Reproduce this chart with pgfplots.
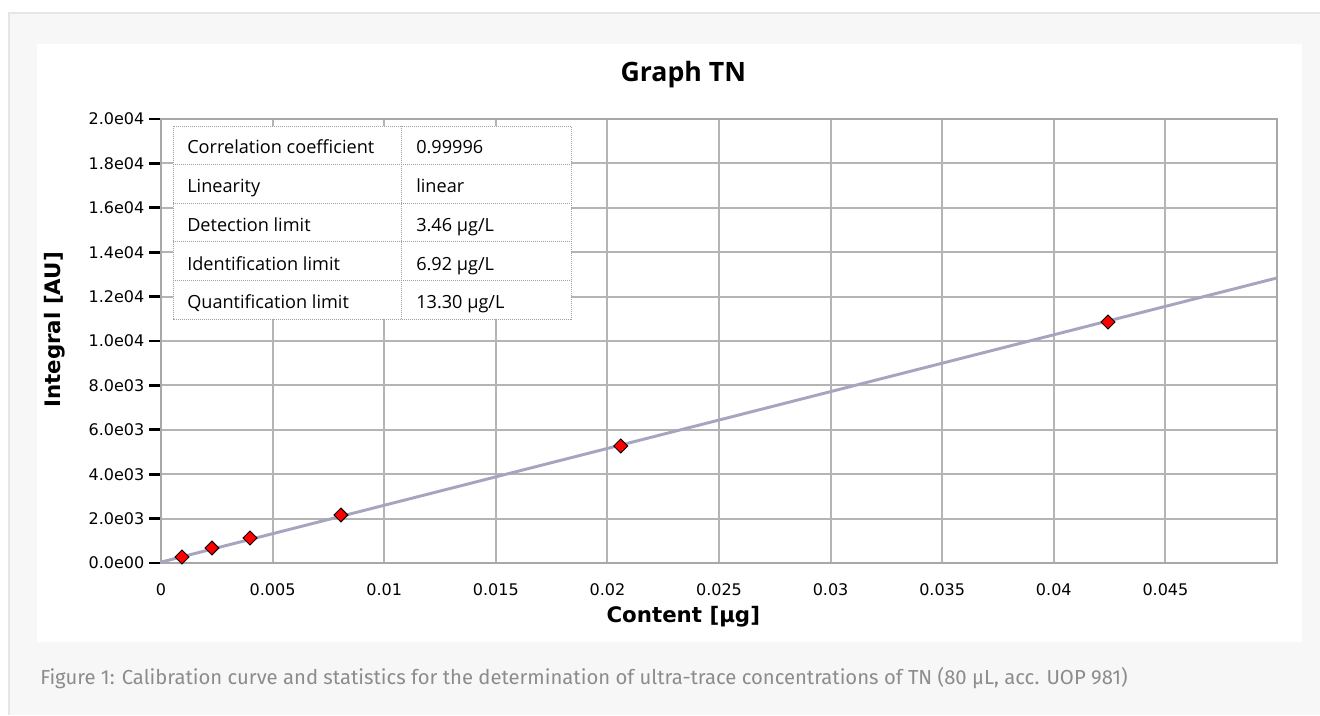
\documentclass[border=0pt]{standalone}
\usepackage{fontspec}
\setmainfont{Open Sans}
\newfontfamily\tickfont{DejaVu Sans}
\newfontfamily\capfont{Fira Sans}
\usepackage{pgfplots}
\pgfplotsset{compat=1.18}
\definecolor{pagebg}{HTML}{F7F7F7}
\definecolor{boxline}{HTML}{E6E6E6}
\definecolor{capgray}{HTML}{8C8C8C}
\definecolor{gridgray}{HTML}{B4B4B4}
\definecolor{axisgray}{HTML}{A8A8A8}
\definecolor{fitline}{HTML}{A7A4C0}
\definecolor{tabline}{HTML}{A0A0A0}

\begin{document}
\begin{tikzpicture}[x=0.75pt,y=0.75pt]
\useasboundingbox (0,0) rectangle (1320,715);
\fill[white] (0,0) rectangle (1320,715);
\fill[pagebg] (9,0) rectangle (1320,702);
\draw[boxline, line width=1pt] (9,0) -- (9,702) -- (1320,702);
\fill[white] (37,73) rectangle (1302,671);
\node[anchor=west, text=capgray, font=\capfont\fontsize{15.2pt}{17pt}\selectfont, inner sep=0pt]
  at (40,37) {Figure 1: Calibration curve and statistics for the determination of ultra-trace concentrations of TN (80 µL, acc. UOP 981)};

\begin{axis}[
    at={(120.75pt,114pt)}, anchor=south west,
    scale only axis, width=837pt, height=333pt,
    xmin=0, xmax=0.05, ymin=0, ymax=20000,
    xtick={0,0.005,0.01,0.015,0.02,0.025,0.03,0.035,0.04,0.045,0.05},
    xticklabels={0,0.005,0.01,0.015,0.02,0.025,0.03,0.035,0.04,0.045,},
    ytick={0,2000,4000,6000,8000,10000,12000,14000,16000,18000,20000},
    yticklabels={0.0e00,2.0e03,4.0e03,6.0e03,8.0e03,1.0e04,1.2e04,1.4e04,1.6e04,1.8e04,2.0e04},
    scaled ticks=false,
    grid=major,
    grid style={gridgray, line width=1.4pt},
    axis line style={axisgray, line width=1.4pt},
    xtick style={draw=none},
    ytick style={black, line width=2.2pt},
    major tick length=9pt,
    tick align=outside,
    ytick pos=left, xtick pos=bottom,
    tick label style={font=\tickfont\fontsize{12pt}{14pt}\selectfont},
    xticklabel style={yshift=-3pt},
    title={Graph TN},
    title style={at={(axis description cs:0.468,1.083)}, anchor=center,
      font=\bfseries\fontsize{20pt}{22pt}\selectfont},
    xlabel={Content [µg]},
    ylabel={Integral [AU]},
    every axis x label/.style={at={(axis description cs:0.468,-0.1216)}, anchor=center,
      font=\tickfont\bfseries\fontsize{16pt}{18pt}\selectfont},
    every axis y label/.style={at={(axis description cs:-0.095,0.525)}, anchor=center, rotate=90,
      font=\tickfont\bfseries\fontsize{16pt}{18pt}\selectfont},
]
% linear fit
\addplot[fitline, line width=2.2pt, no marks] coordinates {(0,40) (0.05,12840)};
% calibration standards
\addplot[only marks, mark=square*, mark size=3.7pt,
  mark options={rotate=45, fill=red, draw=black, line width=0.7pt}]
  coordinates {
    (0.00094,270) (0.00228,676) (0.00399,1126) (0.00806,2162)
    (0.0206,5270) (0.04243,10856)
  };

% statistics table
\fill[white] (axis description cs:0.01075,0.5495) rectangle (axis description cs:0.3674,0.9842);
\begin{scope}[tabline, line width=0.75pt, dash pattern=on 0.75pt off 0.75pt]
\draw (axis description cs:0.01075,0.5495) rectangle (axis description cs:0.3674,0.9842);
\draw (axis description cs:0.2159,0.5495) -- (axis description cs:0.2159,0.9842);
\draw (axis description cs:0.01075,0.8973) -- (axis description cs:0.3674,0.8973);
\draw (axis description cs:0.01075,0.8104) -- (axis description cs:0.3674,0.8104);
\draw (axis description cs:0.01075,0.7234) -- (axis description cs:0.3674,0.7234);
\draw (axis description cs:0.01075,0.6365) -- (axis description cs:0.3674,0.6365);
\end{scope}
\begin{scope}[every node/.style={anchor=base west, inner sep=0pt, font=\fontsize{13.6pt}{15pt}\selectfont}]
\node at (axis description cs:0.0233,0.9223) {Correlation coefficient};
\node at (axis description cs:0.2285,0.9223) {0.99996};
\node at (axis description cs:0.0233,0.8345) {Linearity};
\node at (axis description cs:0.2285,0.8345) {linear};
\node at (axis description cs:0.0233,0.7466) {Detection limit};
\node at (axis description cs:0.2285,0.7466) {3.46 µg/L};
\node at (axis description cs:0.0233,0.6588) {Identification limit};
\node at (axis description cs:0.2285,0.6588) {6.92 µg/L};
\node at (axis description cs:0.0233,0.5732) {Quantification limit};
\node at (axis description cs:0.2285,0.5732) {13.30 µg/L};
\end{scope}
\end{axis}
\end{tikzpicture}
\end{document}
